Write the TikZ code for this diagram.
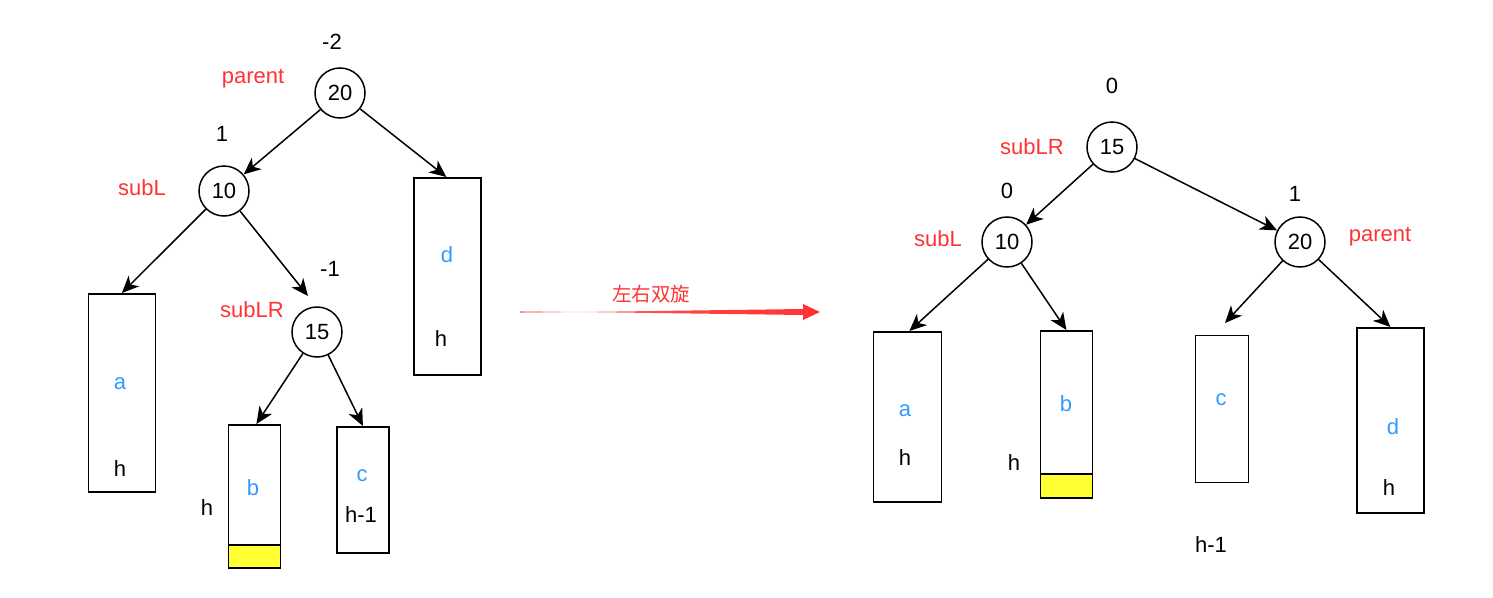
\documentclass[tikz,border=0pt]{standalone}
\usepackage{fontspec}
\setmainfont{Liberation Sans}
\newfontfamily\cjk{Noto Sans CJK SC}
\usetikzlibrary{arrows.meta}
\definecolor{lblred}{HTML}{FF3333}
\definecolor{lblblue}{HTML}{3399FF}
\definecolor{hiyel}{HTML}{FFFF33}
\begin{document}
\begin{tikzpicture}[x=1pt,y=-1pt,
  every node/.style={inner sep=0pt, font=\fontsize{22}{26}\selectfont, text height=15.7pt, text depth=0pt},
  circ/.style={circle, draw, line width=1.5pt, minimum size=50pt, fill=white},
  box/.style={draw, line width=1.8pt, minimum width=#1, anchor=north west, rectangle},
  yel/.style={draw, line width=1.8pt, fill=hiyel, anchor=north west, rectangle},
  redlbl/.style={text=lblred},
  bluelbl/.style={text=lblblue},
  arr/.style={-{Stealth[length=17pt,width=15pt,inset=5pt]}, line width=1.5pt}
]
\useasboundingbox (0,0) rectangle (1493,597);

% ---------- left tree ----------
\node[circ] (L20) at (340,93) {20};
\node[circ] (L10) at (224,191) {10};
\node[circ] (L15) at (317,332) {15};

\node[box=67pt, minimum height=198pt] (La) at (87.5,293) {};
\node[box=52pt, minimum height=143pt] (Lb) at (227.5,424) {};
\node[yel, minimum width=52pt, minimum height=23pt] (Lby) at (227.5,544) {};
\node[box=52pt, minimum height=126pt] (Lc) at (336,426) {};
\node[box=67pt, minimum height=197pt] (Ld) at (413,177) {};

\node (Lalbl) [bluelbl] at (120,382) {a};
\node (Lah) at (120,469) {h};
\node (Lblbl) [bluelbl] at (253,488) {b};
\node (Lbh) at (207,508) {h};
\node (Lclbl) [bluelbl] at (362,474) {c};
\node (Lch) at (361,515) {h-1};
\node (Ldlbl) [bluelbl] at (447,255) {d};
\node (Ldh) at (441,339) {h};

\node (Lbf20) at (332,42) {-2};
\node (Lpar) [redlbl] at (253,76) {parent};
\node (Lbf10) at (222,134) {1};
\node (LsubL) [redlbl] at (142,188) {subL};
\node (Lbf15) at (330,269) {-1};
\node (LsubLR) [redlbl] at (252,310) {subLR};

\coordinate (t15) at (308,296);
\draw[arr] (L20) -- (L10);
\draw[arr] (L20) -- ([xshift=-1pt]Ld.north);
\draw[arr] (L10) -- (La.north);
\draw[arr] (L10) -- (t15);
\draw[arr] (L15) -- ([xshift=2pt]Lb.north);
\draw[arr] (L15) -- (Lc.north);

% ---------- transition arrow ----------
\coordinate (rs) at (520,312);
\coordinate (re) at (820,312);
\shade[left color=lblred!55, right color=lblred, middle color=lblred!90] ([yshift=-0.8pt]rs) -- (803,309) -- (803,304) -- (re) -- (803,320) -- (803,315) -- ([yshift=0.8pt]rs) -- cycle;
\node (rlbl) [redlbl, font=\cjk\fontsize{19.5}{23}\selectfont, text height=16pt] at (651,293) {左右双旋};

% ---------- right tree ----------
\node[circ] (R15) at (1112,147) {15};
\node[circ] (R10) at (1007,242) {10};
\node[circ] (R20) at (1300,242) {20};

\node[box=68pt, minimum height=170pt] (Ra) at (872.5,331) {};
\node[box=52pt, minimum height=167pt] (Rb) at (1039.5,330) {};
\node[yel, minimum width=52pt, minimum height=24pt] (Rby) at (1039.5,473) {};
\node[box=53pt, minimum height=147pt] (Rc) at (1194.5,334.5) {};
\node[box=67pt, minimum height=185pt] (Rd) at (1356,327) {};

\node (Ralbl) [bluelbl] at (905,409) {a};
\node (Rah) at (905,458) {h};
\node (Rblbl) [bluelbl] at (1066,404) {b};
\node (Rbh) at (1014,463) {h};
\node (Rclbl) [bluelbl] at (1221,398) {c};
\node (Rdlbl) [bluelbl] at (1393,427) {d};
\node (Rdh) at (1389,488) {h};
\node (Rch) at (1211,545) {h-1};

\node (Rbf15) at (1112,86) {0};
\node (RsubLR) [redlbl] at (1032,147) {subLR};
\node (Rbf10) at (1007,191) {0};
\node (RsubL) [redlbl] at (938,239) {subL};
\node (Rbf20) at (1295,194) {1};
\node (Rpar) [redlbl] at (1380,234) {parent};

\coordinate (tc) at (1225,323);
\draw[arr] (R15) -- (R10);
\draw[arr] (R15) -- (R20);
\draw[arr] (R10) -- ([xshift=2pt]Ra.north);
\draw[arr] (R10) -- (Rb.north);
\draw[arr] (R20) -- (tc);
\draw[arr] (R20) -- (Rd.north);
\end{tikzpicture}
\end{document}
